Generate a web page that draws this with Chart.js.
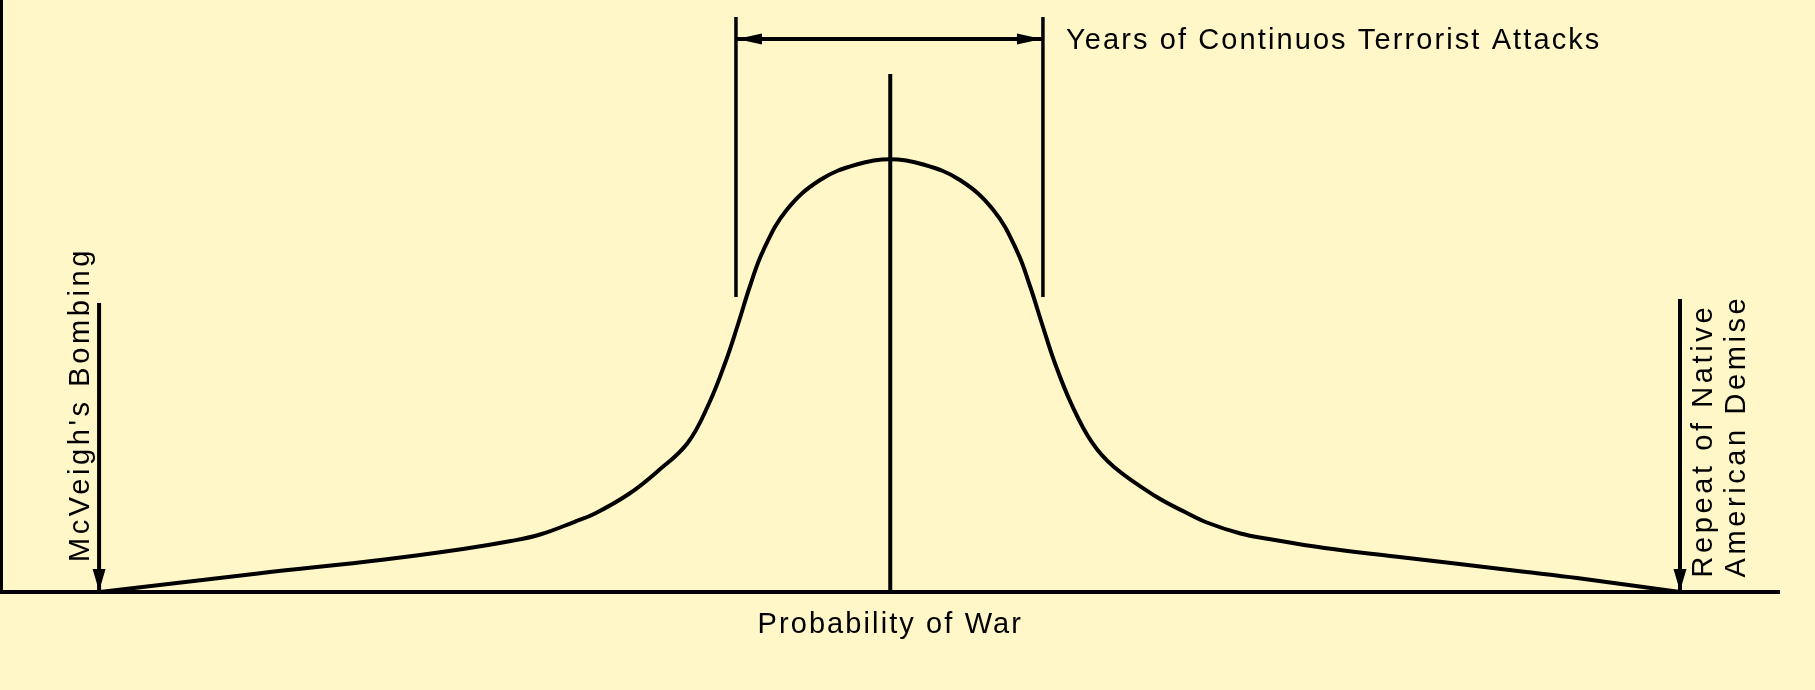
<!DOCTYPE html>
<html>
<head>
<meta charset="utf-8">
<title>Probability of War</title>
<script src="https://cdn.jsdelivr.net/npm/chart.js@4.4.1/dist/chart.umd.min.js"></script>
<style>
  html, body { margin: 0; padding: 0; background: #fff7c8; }
  #warChart { display: block; }
</style>
</head>
<body>
<canvas id="warChart" width="1815" height="690"></canvas>
<script>
// bell curve (x: 0-100 across the axis, y: 0-100 up the axis)
const curveX = [5.54, 14.43, 21.55, 25.96, 28.66, 30.30, 32.21, 33.39, 35.29, 36.93, 38.60, 39.79,
  40.73, 41.44, 42.11, 42.84, 44.17, 46.05, 48.11, 49.99, 51.86, 53.92, 55.80, 57.13, 57.86,
  58.54, 59.24, 60.19, 61.37, 62.59, 64.95, 66.58, 67.81, 69.70, 71.31, 74.44, 78.40, 81.54,
  85.54, 88.64, 94.43];
const curveY = [0, 3.13, 5.49, 7.26, 8.61, 9.71, 11.82, 13.26, 16.55, 20.44, 25.17, 31.76,
  38.85, 45.27, 51.69, 57.60, 64.53, 69.59, 72.21, 73.09, 72.21, 69.59, 64.53, 57.60, 51.69,
  45.27, 38.85, 31.76, 25.17, 21.11, 16.13, 13.51, 11.74, 9.88, 8.95, 7.43, 6.00, 4.90,
  3.46, 2.36, 0];

// centre line through the peak
const peakX = 50;
const peakTop = 87.5;

// bracket for the years of attacks
const spanX = [41.32, 58.59];
const spanY = [49.83, 97.13];
const spanArrowY = 93.41;

// the two event arrows (left and right end of the curve)
const eventX = [5.49, 94.43];
const eventTop = [48.82, 49.49];

const spanLabel = 'Years of Continuos Terrorist Attacks';
const leftLabel = ["McVeigh's Bombing"];
const rightLabel = ['Repeat of Native', 'American Demise'];
const xTitle = 'Probability of War';

const FONT = '"Liberation Sans", Arial, sans-serif';

function seg(x0, y0, x1, y1) {
  return [{x: x0, y: y0}, {x: x1, y: y1}];
}
function lineSet(data, w) {
  return {data: data, borderColor: '#000', borderWidth: w, pointRadius: 0, tension: 0, fill: false};
}

const curve = lineSet(curveX.map((x, i) => ({x: x, y: curveY[i]})), 4);
curve.tension = 0.4;

const datasets = [
  curve,
  lineSet(seg(peakX, 0, peakX, peakTop), 4),
  lineSet(seg(spanX[0], spanY[0], spanX[0], spanY[1]), 3.5),
  lineSet(seg(spanX[1], spanY[0], spanX[1], spanY[1]), 3.5),
  lineSet(seg(spanX[0], spanArrowY, spanX[1], spanArrowY), 4),
  lineSet(seg(eventX[0], 0, eventX[0], eventTop[0]), 4),
  lineSet(seg(eventX[1], 0, eventX[1], eventTop[1]), 4)
];

function tri(ctx, a, b, c) {
  ctx.beginPath();
  ctx.moveTo(a[0], a[1]);
  ctx.lineTo(b[0], b[1]);
  ctx.lineTo(c[0], c[1]);
  ctx.closePath();
  ctx.fill();
}

const annotations = {
  id: 'annotations',
  beforeDraw(chart) {
    // axis title is spaced out like the other labels
    chart.ctx.letterSpacing = '2.1px';
  },
  afterDatasetsDraw(chart) {
    const ctx = chart.ctx;
    const sx = chart.scales.x, sy = chart.scales.y;
    const px = v => sx.getPixelForValue(v);
    const py = v => sy.getPixelForValue(v);
    ctx.save();
    ctx.fillStyle = '#000';

    // heads of the event arrows, tip on the baseline
    eventX.forEach(v => {
      const tx = px(v), ty = py(0) - 1;
      tri(ctx, [tx, ty], [tx - 6.5, ty - 22], [tx + 6.5, ty - 22]);
    });

    // double head on the bracket arrow
    const ay = py(spanArrowY), l = px(spanX[0]), r = px(spanX[1]);
    tri(ctx, [l + 1, ay], [l + 26, ay - 5.5], [l + 26, ay + 5.5]);
    tri(ctx, [r - 1, ay], [r - 26, ay - 5.5], [r - 26, ay + 5.5]);

    ctx.font = '29px ' + FONT;
    ctx.textAlign = 'left';
    ctx.textBaseline = 'alphabetic';
    ctx.letterSpacing = '2.1px';
    ctx.fillText(spanLabel, r + 23, ay + 9.8);

    // rotated labels next to the event arrows
    ctx.letterSpacing = '3.6px';
    ctx.save();
    ctx.translate(px(eventX[0]) - 10, py(0) - 30);
    ctx.rotate(-Math.PI / 2);
    leftLabel.forEach((t, i) => ctx.fillText(t, 0, i * 33));
    ctx.restore();

    ctx.save();
    ctx.translate(px(eventX[1]) + 32, py(0) - 14.5);
    ctx.rotate(-Math.PI / 2);
    rightLabel.forEach((t, i) => ctx.fillText(t, 0, i * 33));
    ctx.restore();

    ctx.restore();
  }
};

new Chart(document.getElementById('warChart'), {
  type: 'line',
  data: {datasets: datasets},
  options: {
    responsive: false,
    animation: false,
    events: [],
    layout: {autoPadding: false, padding: {left: 1.5, right: 36, top: 0, bottom: 0}},
    plugins: {legend: {display: false}, tooltip: {enabled: false}},
    scales: {
      x: {
        type: 'linear', min: 0, max: 100,
        border: {display: true, color: '#000', width: 4},
        grid: {display: false, drawTicks: false},
        ticks: {display: false},
        title: {
          display: true, text: xTitle, color: '#000',
          font: {family: FONT, size: 29, lineHeight: 1.2},
          padding: {top: 15.6, bottom: 47.6}
        }
      },
      y: {
        type: 'linear', min: 0, max: 100,
        border: {display: true, color: '#000', width: 3},
        grid: {display: false, drawTicks: false},
        ticks: {display: false}
      }
    }
  },
  plugins: [annotations]
});
</script>
</body>
</html>
